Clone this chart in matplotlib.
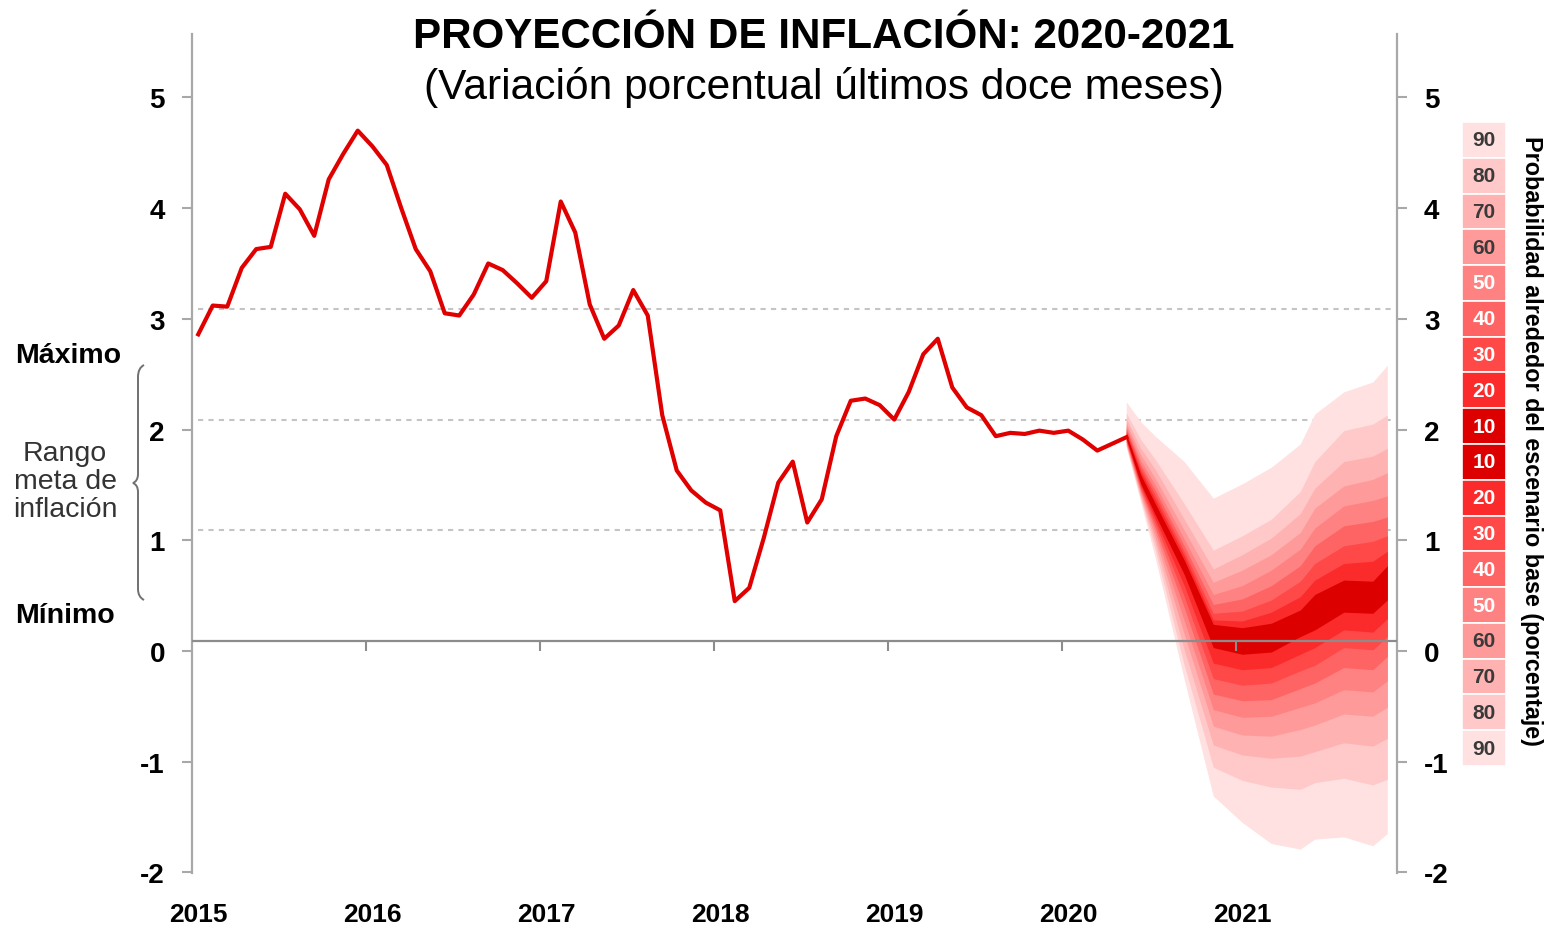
import numpy as np
import matplotlib
matplotlib.use("Agg")
import matplotlib.pyplot as plt
from matplotlib import font_manager
from matplotlib.path import Path
from matplotlib.patches import PathPatch

plt.rcParams['font.family'] = ['Liberation Sans', 'DejaVu Sans']
plt.rcParams['axes.unicode_minus'] = False

# 12-month inflation, monthly observations (%)
inflation = [2.77, 3.03, 3.02, 3.37, 3.54, 3.56, 4.04, 3.90, 3.66, 4.17, 4.40, 4.61,
             4.47, 4.30, 3.91, 3.54, 3.34, 2.96, 2.94, 3.13, 3.41, 3.35, 3.23, 3.10,
             3.25, 3.97, 3.69, 3.04, 2.73, 2.85, 3.17, 2.94, 2.04, 1.54, 1.36, 1.25,
             1.18, 0.36, 0.48, 0.93, 1.43, 1.62, 1.07, 1.28, 1.85, 2.17, 2.19, 2.13,
             2.00, 2.25, 2.59, 2.73, 2.29, 2.11, 2.04, 1.85, 1.88, 1.87, 1.90, 1.88,
             1.90, 1.82, 1.72, 1.78, 1.84]
years = ['2015', '2016', '2017', '2018', '2019', '2020', '2021']
target_lines = [1, 2, 3]

# fan chart: months after the last observation
fan_months = [0, 1, 2, 4, 6, 8, 10, 12, 13, 15, 17, 18]
fan_upper = {
    90: [2.16, 1.98, 1.85, 1.62, 1.29, 1.42, 1.57, 1.78, 2.05, 2.25, 2.34, 2.49],
    80: [2.06, 1.82, 1.64, 1.24, 0.82, 0.95, 1.10, 1.35, 1.62, 1.90, 1.96, 2.04],
    70: [2.01, 1.74, 1.55, 1.10, 0.65, 0.78, 0.93, 1.15, 1.38, 1.62, 1.67, 1.74],
    60: [1.97, 1.68, 1.47, 1.00, 0.53, 0.64, 0.78, 0.98, 1.20, 1.40, 1.46, 1.52],
    50: [1.94, 1.63, 1.41, 0.92, 0.42, 0.50, 0.64, 0.83, 1.02, 1.22, 1.27, 1.31],
    40: [1.92, 1.59, 1.36, 0.86, 0.33, 0.38, 0.50, 0.68, 0.86, 1.04, 1.08, 1.12],
    30: [1.90, 1.56, 1.32, 0.81, 0.25, 0.27, 0.37, 0.54, 0.70, 0.86, 0.90, 0.95],
    20: [1.88, 1.53, 1.28, 0.77, 0.19, 0.18, 0.26, 0.40, 0.55, 0.70, 0.72, 0.81],
    10: [1.87, 1.50, 1.24, 0.73, 0.15, 0.12, 0.16, 0.28, 0.42, 0.55, 0.54, 0.68],
}
fan_lower = {
    10: [1.83, 1.42, 1.14, 0.60, -0.06, -0.12, -0.10, 0.04, 0.10, 0.26, 0.25, 0.37],
    20: [1.82, 1.40, 1.10, 0.50, -0.20, -0.26, -0.24, -0.12, -0.06, 0.10, 0.08, 0.20],
    30: [1.81, 1.38, 1.06, 0.40, -0.34, -0.40, -0.38, -0.27, -0.22, -0.06, -0.08, 0.04],
    40: [1.80, 1.36, 1.02, 0.30, -0.48, -0.54, -0.53, -0.43, -0.38, -0.24, -0.26, -0.14],
    50: [1.79, 1.34, 0.98, 0.18, -0.62, -0.69, -0.68, -0.60, -0.56, -0.44, -0.46, -0.36],
    60: [1.78, 1.32, 0.93, 0.06, -0.77, -0.85, -0.86, -0.80, -0.76, -0.66, -0.68, -0.60],
    70: [1.77, 1.30, 0.88, -0.08, -0.94, -1.03, -1.06, -1.04, -1.00, -0.92, -0.95, -0.88],
    80: [1.76, 1.28, 0.82, -0.22, -1.14, -1.26, -1.32, -1.34, -1.28, -1.24, -1.30, -1.25],
    90: [1.75, 1.25, 0.75, -0.35, -1.40, -1.64, -1.83, -1.88, -1.79, -1.77, -1.85, -1.74],
}
prob_levels = [90, 80, 70, 60, 50, 40, 30, 20, 10]
band_colors = {90: '#ffe1e1', 80: '#ffc9c9', 70: '#ffb2b2', 60: '#ff9a9a', 50: '#ff8282',
               40: '#ff6464', 30: '#ff4848', 20: '#fb2b2b', 10: '#dc0000'}

W, H = 1552, 929
fig = plt.figure(figsize=(W / 100, H / 100), dpi=100)
ax = fig.add_axes([192 / W, 1 - 874 / H, (1397 - 192) / W, (874 - 35) / H])

x_hist = np.arange(len(inflation))
x_fan = x_hist[-1] + np.array(fan_months)

for p in prob_levels:
    ax.fill_between(x_fan, fan_upper[p], fan_lower[p], color=band_colors[p], lw=0, zorder=2)

ax.hlines(target_lines, 0, 82.4, colors='#c4c4c4', linestyles=(0, (2.5, 2.5)), lw=1.5, zorder=1)
ax.axhline(0, color='#8c8c8c', lw=1.6, zorder=3)
ax.plot(x_hist, inflation, color='#e00000', lw=3, zorder=5, solid_joinstyle='round')

# x axis: year labels at the bottom, small year ticks on the zero line
year_pos = np.arange(len(years)) * 12
narrow = 'Liberation Sans Narrow' in {f.name for f in font_manager.fontManager.ttflist}
ax.set_xticks(year_pos, years)
ax.tick_params(axis='x', length=0, pad=21)
for lab in ax.get_xticklabels():
    lab.set_fontweight('bold')
    if narrow:
        lab.set_family('Liberation Sans Narrow')
        lab.set_fontsize(22)
    else:
        lab.set_fontsize(19)
ax.vlines(year_pos[1:] - 0.4, -0.09, 0, colors='#8c8c8c', lw=1.5, zorder=3)

ax.set_xlim(-0.43, 82.67)
ax.set_ylim(-2.096, 5.483)
for s in ('top', 'bottom'):
    ax.spines[s].set_visible(False)
for s in ('left', 'right'):
    ax.spines[s].set_color('#a8a8a8')
    ax.spines[s].set_linewidth(1.6)
ax.tick_params(axis='y', left=False, labelleft=False)

# the printed scale sits slightly below the plotted grid in the original
shift = 0.09
for side in ('left', 'right'):
    sec = ax.secondary_yaxis(side, functions=(lambda y: y + shift, lambda y: y - shift))
    sec.set_yticks(range(-2, 6))
    sec.spines[side].set_visible(False)
    sec.tick_params(length=7.5, width=1.5, color='#a8a8a8', pad=12, labelsize=20)
    for lab in sec.get_yticklabels():
        lab.set_fontweight('bold')

# titles
fig.text(823.5 / W, 1 - 48 / H, 'PROYECCIÓN DE INFLACIÓN: 2020-2021', ha='center',
         va='baseline', fontsize=30.3, fontweight='bold')
fig.text(823.5 / W, 1 - 99 / H, '(Variación porcentual últimos doce meses)', ha='center',
         va='baseline', fontsize=30.6)

# target range annotation on the left
fig.text(68 / W, 1 - 356 / H, 'Máximo', ha='center', va='center', fontsize=20.5, fontweight='bold')
fig.text(65 / W, 1 - 616 / H, 'Mínimo', ha='center', va='center', fontsize=20.5, fontweight='bold')
fig.text(65 / W, 1 - 482 / H, 'Rango\nmeta de\ninflación', ha='center', va='center',
         fontsize=20.5, linespacing=1.12, color='#333333')

brace_px = [(144, 366), (138, 369), (138, 378), (138, 475), (138, 482), (133, 484),
            (138, 486), (138, 493), (138, 590), (138, 598), (144, 601)]
codes = [Path.MOVETO, Path.CURVE3, Path.CURVE3, Path.LINETO, Path.CURVE3, Path.CURVE3,
         Path.CURVE3, Path.CURVE3, Path.LINETO, Path.CURVE3, Path.CURVE3]
brace = Path([(x / W, 1 - y / H) for x, y in brace_px], codes)
fig.add_artist(PathPatch(brace, transform=fig.transFigure, fill=False, ec='#707070', lw=1.4))

# probability legend
lax = fig.add_axes([1462 / W, 1 - 767 / H, 44 / W, (767 - 123) / H])
legend_levels = prob_levels + prob_levels[::-1]
n = len(legend_levels)
for i, p in enumerate(legend_levels):
    yb = n - 1 - i
    lax.bar(0.5, 1, bottom=yb, width=1, color=band_colors[p], edgecolor='white', lw=1.2)
    lax.text(0.5, yb + 0.5, str(p), ha='center', va='center', fontsize=15, fontweight='bold',
             color='white' if p <= 50 else '#3a3a3a')
lax.set_xlim(0, 1)
lax.set_ylim(0, n)
lax.axis('off')

fig.text(1532 / W, 1 - 441 / H, 'Probabilidad alrededor del escenario base (porcentaje)',
         rotation=-90, ha='center', va='center', fontsize=16.8, fontweight='bold')

fig.savefig('out.png', dpi=100)
